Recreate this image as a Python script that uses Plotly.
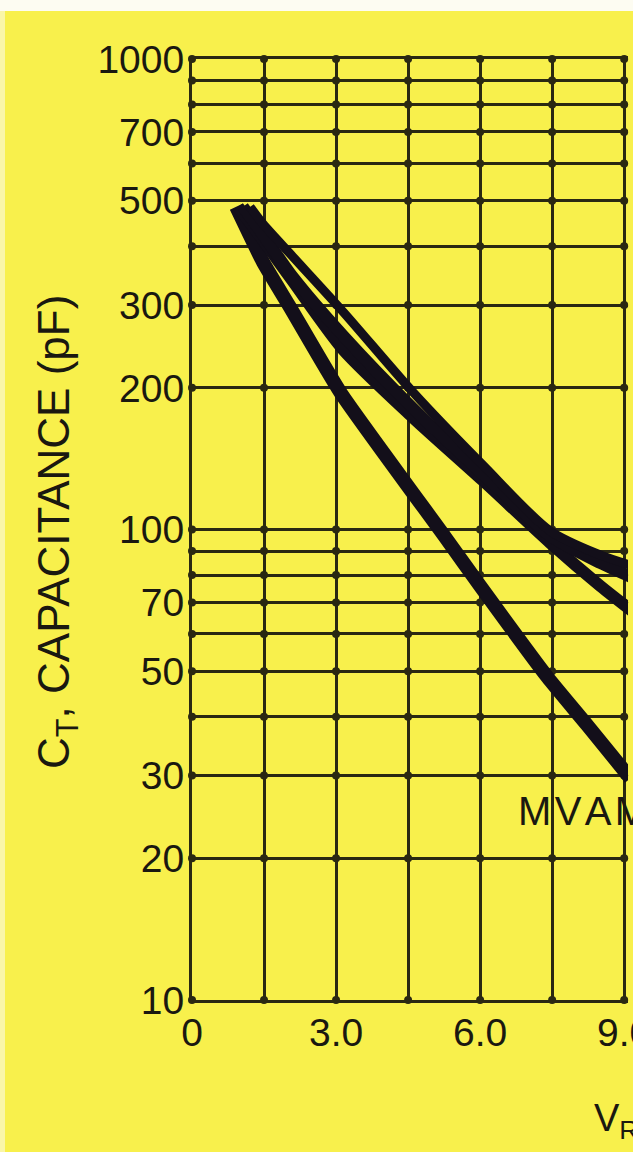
import plotly.graph_objects as go

# Grid divisions of the log capacitance axis and the voltage axis
cap_grid = [10, 20, 30, 40, 50, 60, 70, 80, 90, 100, 200, 300, 400, 500, 600, 700, 800, 900, 1000]
cap_labeled = [10, 20, 30, 50, 70, 100, 200, 300, 500, 700, 1000]
volt_grid = [0, 1.5, 3.0, 4.5, 6.0, 7.5, 9.0]
volt_labels = ["0", "", "3.0", "", "6.0", "", "9.0"]

# Capacitance (pF) versus reverse voltage (V)
volts_low = [0.92, 1.48, 2.04, 3.10, 5.27, 6.00, 7.40, 8.23, 9.13]
cap_low = [485, 370, 297, 195, 96.4, 75.9, 48.6, 38.4, 29.6]

volts_b2 = [0.96, 1.48, 2.10, 3.15, 4.60, 6.06, 7.46, 8.50, 9.19]
cap_b2 = [485, 412, 337, 241, 173, 127, 93.6, 75.9, 66.8]

volts_b1 = [1.06, 1.48, 2.10, 3.15, 4.60, 6.06, 7.46, 8.50, 9.19]
cap_b1 = [485, 423, 344, 258, 181, 131, 96.9, 84.9, 78.9]

volts_top = [1.21, 1.48, 2.10, 3.15, 4.60, 6.06, 7.46, 8.50, 9.19]
cap_top = [485, 446, 380, 290, 196, 137, 99.3, 88.3, 83.6]

W, H = 633, 1152
ML, MR, MT, MB = 192, 5, 59, 152
PW, PH = W - ML - MR, H - MT - MB

YELLOW = "#F8F04C"
GRID = "#2a2812"
INK = "#130f1a"
TXT = "#1a1810"
FONT = "Liberation Sans, Arial, Helvetica, sans-serif"


def px_x(p):
    return (p - ML) / PW


def px_y(p):
    return (H - MB - p) / PH


fig = go.Figure()

# dark blobs where the grid lines cross
gx, gy = [], []
for v in volt_grid:
    for c in cap_grid:
        gx.append(v)
        gy.append(c)
fig.add_trace(go.Scatter(x=gx, y=gy, mode="markers",
                         marker=dict(size=8, color=GRID), hoverinfo="skip",
                         showlegend=False, cliponaxis=False))

curves = [
    (volts_low, cap_low, 14, 0.5),
    (volts_b2, cap_b2, 12, 0.7),
    (volts_b1, cap_b1, 12, 0.7),
    (volts_top, cap_top, 9, 0.8),
]
for vx, cy, w, sm in curves:
    fig.add_trace(go.Scatter(x=vx, y=cy, mode="lines",
                             line=dict(color=INK, width=w, shape="spline", smoothing=sm),
                             showlegend=False, hoverinfo="skip"))

fig.update_xaxes(range=[0, 9.08], tickmode="array", tickvals=volt_grid, ticktext=volt_labels,
                 showgrid=True, gridcolor=GRID, gridwidth=2.8, zeroline=False,
                 showline=True, linecolor=GRID, linewidth=3, mirror=True,
                 ticks="", ticklabelstandoff=-4, ticklabeloverflow="allow",
                 automargin=False,
                 tickfont=dict(family=FONT, size=39, color=TXT))
fig.update_yaxes(type="log", range=[1, 3], tickmode="array", tickvals=cap_grid,
                 ticktext=[str(c) if c in cap_labeled else "" for c in cap_grid],
                 showgrid=True, gridcolor=GRID, gridwidth=2.8, zeroline=False,
                 showline=True, linecolor=GRID, linewidth=3,
                 ticks="", ticklabelstandoff=-3, ticklabeloverflow="allow",
                 automargin=False,
                 tickfont=dict(family=FONT, size=39, color=TXT))

fig.add_annotation(text="C<sub>T</sub>, CAPACITANCE (pF)", textangle=-90,
                   xref="paper", yref="paper", x=px_x(57), y=px_y(532),
                   xanchor="center", yanchor="middle", showarrow=False,
                   font=dict(family=FONT, size=44, color=TXT))
fig.add_annotation(text="V<sub>R</sub>, REVERSE VOLTAGE (VOLTS)",
                   xref="paper", yref="paper", x=px_x(592), y=px_y(1121),
                   xanchor="left", yanchor="middle", showarrow=False,
                   font=dict(family=FONT, size=38, color=TXT))
fig.add_annotation(text="M\u200aV\u200aA\u200aM\u200a1\u200a1\u200a5",
                   xref="paper", yref="paper", x=px_x(516), y=px_y(811),
                   xanchor="left", yanchor="middle", showarrow=False,
                   font=dict(family=FONT, size=40, color=TXT))

# white border of the sheet along the top and a paler edge on the left
fig.add_shape(type="rect", xref="paper", yref="paper",
              x0=px_x(-5), x1=px_x(W + 5), y0=px_y(11), y1=px_y(-5),
              fillcolor="#FDFCF2", line_width=0, layer="below")
fig.add_shape(type="rect", xref="paper", yref="paper",
              x0=px_x(-5), x1=px_x(5), y0=px_y(H + 5), y1=px_y(11),
              fillcolor="#FAF6A8", line_width=0, layer="below")

fig.update_layout(width=W, height=H,
                  margin=dict(l=ML, r=MR, t=MT, b=MB, pad=0, autoexpand=False),
                  paper_bgcolor=YELLOW, plot_bgcolor=YELLOW, showlegend=False)

fig.write_html("out.html")
